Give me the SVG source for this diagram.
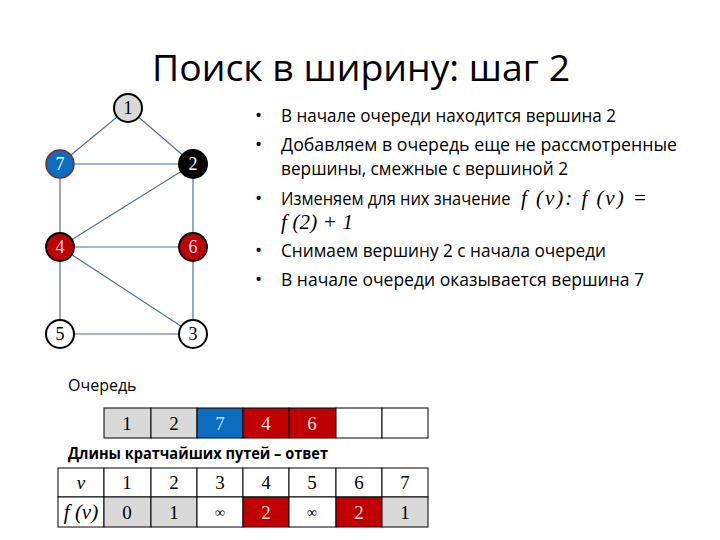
<svg xmlns="http://www.w3.org/2000/svg" width="720" height="540" viewBox="0 0 720 540">
<style>
.edge{stroke:#52708e;stroke-width:1.2;fill:none}
.node circle{stroke:#000;stroke-width:2}
.nl{font-family:"Liberation Serif","DejaVu Serif",serif;font-size:18px;text-anchor:middle}
.title{font-family:"Open Sans","Liberation Sans",sans-serif;font-size:37px;fill:#000;text-anchor:middle}
.b{font-family:"Open Sans","Liberation Sans",sans-serif;font-size:19px;fill:#000}
.m{font-family:"Liberation Serif","DejaVu Serif",serif;font-size:21px;fill:#000;font-style:italic}
.mi{font-style:italic}
.lbl{font-family:"Open Sans","Liberation Sans",sans-serif;font-size:16px;fill:#000}
.cell{stroke:#000;stroke-width:1}
.ct{font-family:"Liberation Serif","DejaVu Serif",serif;font-size:19px;text-anchor:middle}
</style>
<rect width="720" height="540" fill="#fff"/>
<text class="title" x="361" y="81" textLength="418" lengthAdjust="spacingAndGlyphs">Поиск в ширину: шаг 2</text>

<g id="connectors">
<line class="edge" x1="128" y1="108" x2="60" y2="164"/>
<line class="edge" x1="128" y1="108" x2="193" y2="164"/>
<line class="edge" x1="60" y1="164" x2="193" y2="164"/>
<line class="edge" x1="60" y1="164" x2="60" y2="247"/>
<line class="edge" x1="193" y1="164" x2="60" y2="247"/>
<line class="edge" x1="193" y1="164" x2="193" y2="247"/>
<line class="edge" x1="60" y1="247" x2="193" y2="247"/>
<line class="edge" x1="60" y1="247" x2="60" y2="334"/>
<line class="edge" x1="60" y1="247" x2="193" y2="334"/>
<line class="edge" x1="193" y1="247" x2="193" y2="334"/>
<line class="edge" x1="60" y1="334" x2="193" y2="334"/>
</g>

<g id="node1" class="node"><circle cx="128" cy="108" r="14" fill="#d9d9d9"/><text class="nl" x="128" y="114" fill="#000">1</text></g>
<g id="node7" class="node"><circle cx="60" cy="164" r="14" fill="#0b6cc0" style="stroke:#7a2e2e;stroke-width:1.5"/><text class="nl" x="60" y="170" fill="#fff">7</text></g>
<g id="node2" class="node"><circle cx="193" cy="164" r="14" fill="#000"/><text class="nl" x="193" y="170" fill="#fff">2</text></g>
<g id="node4" class="node"><circle cx="60" cy="247" r="14" fill="#c00000"/><text class="nl" x="60" y="253" fill="#fde">4</text></g>
<g id="node6" class="node"><circle cx="193" cy="247" r="14" fill="#c00000"/><text class="nl" x="193" y="253" fill="#fde">6</text></g>
<g id="node5" class="node"><circle cx="60" cy="334" r="14" fill="#fff"/><text class="nl" x="60" y="340" fill="#000">5</text></g>
<g id="node3" class="node"><circle cx="193" cy="334" r="14" fill="#fff"/><text class="nl" x="193" y="340" fill="#000">3</text></g>

<g id="bullets">
<text class="b" x="255" y="122">•</text>
<text class="b" x="281" y="122" textLength="335" lengthAdjust="spacingAndGlyphs">В начале очереди находится вершина 2</text>
<text class="b" x="255" y="151">•</text>
<text class="b" x="281" y="151" textLength="396" lengthAdjust="spacingAndGlyphs">Добавляем в очередь еще не рассмотренные</text>
<text class="b" x="281" y="175" textLength="287" lengthAdjust="spacingAndGlyphs">вершины, смежные с вершиной 2</text>
<text class="b" x="255" y="205">•</text>
<text class="b" transform="translate(281,205) scale(0.9,1)" x="0" y="0" textLength="255" lengthAdjust="spacingAndGlyphs">Изменяем для них значение</text>
<text class="m" x="521" y="205" textLength="126" lengthAdjust="spacing">f (v): f (v) =</text>
<text class="m" x="281" y="229" textLength="72" lengthAdjust="spacing">f (2) + 1</text>
<text class="b" x="255" y="257">•</text>
<text class="b" x="281" y="257" textLength="325" lengthAdjust="spacingAndGlyphs">Снимаем вершину 2 с начала очереди</text>
<text class="b" x="255" y="286">•</text>
<text class="b" x="281" y="286" textLength="363" lengthAdjust="spacingAndGlyphs">В начале очереди оказывается вершина 7</text>
</g>

<text class="lbl" x="68" y="391">Очередь</text>
<g id="queue">
<rect class="cell" x="104" y="408" width="47" height="30" fill="#d9d9d9"/>
<rect class="cell" x="151" y="408" width="46" height="30" fill="#d9d9d9"/>
<rect class="cell" x="197" y="408" width="46" height="30" fill="#0b6cc0"/>
<rect class="cell" x="243" y="408" width="46" height="30" fill="#c00000"/>
<rect class="cell" x="289" y="408" width="47" height="30" fill="#c00000"/>
<rect class="cell" x="336" y="408" width="46" height="30" fill="#fff"/>
<rect class="cell" x="382" y="408" width="46" height="30" fill="#fff"/>
<text class="ct" x="127" y="430" fill="#000">1</text>
<text class="ct" x="174" y="430" fill="#000">2</text>
<text class="ct" x="220" y="430" fill="#bfe6ff">7</text>
<text class="ct" x="266" y="430" fill="#fdd">4</text>
<text class="ct" x="312" y="430" fill="#fdd">6</text>
</g>

<text class="lbl" x="68" y="459" style="font-weight:bold" textLength="260" lengthAdjust="spacingAndGlyphs">Длины кратчайших путей – ответ</text>
<g id="table">
<rect class="cell" x="58" y="468" width="46" height="29" fill="#fff"/>
<rect class="cell" x="104" y="468" width="47" height="29" fill="#fff"/>
<rect class="cell" x="151" y="468" width="46" height="29" fill="#fff"/>
<rect class="cell" x="197" y="468" width="46" height="29" fill="#fff"/>
<rect class="cell" x="243" y="468" width="46" height="29" fill="#fff"/>
<rect class="cell" x="289" y="468" width="47" height="29" fill="#fff"/>
<rect class="cell" x="336" y="468" width="46" height="29" fill="#fff"/>
<rect class="cell" x="382" y="468" width="46" height="29" fill="#fff"/>
<rect class="cell" x="58" y="497" width="46" height="30" fill="#fff"/>
<rect class="cell" x="104" y="497" width="47" height="30" fill="#d9d9d9"/>
<rect class="cell" x="151" y="497" width="46" height="30" fill="#d9d9d9"/>
<rect class="cell" x="197" y="497" width="46" height="30" fill="#fff"/>
<rect class="cell" x="243" y="497" width="46" height="30" fill="#c00000"/>
<rect class="cell" x="289" y="497" width="47" height="30" fill="#fff"/>
<rect class="cell" x="336" y="497" width="46" height="30" fill="#c00000"/>
<rect class="cell" x="382" y="497" width="46" height="30" fill="#d9d9d9"/>
<text class="ct mi" x="81" y="489">v</text>
<text class="ct" x="127" y="489">1</text>
<text class="ct" x="174" y="489">2</text>
<text class="ct" x="220" y="489">3</text>
<text class="ct" x="266" y="489">4</text>
<text class="ct" x="312" y="489">5</text>
<text class="ct" x="359" y="489">6</text>
<text class="ct" x="405" y="489">7</text>
<text class="ct mi" x="81" y="519" style="font-size:21px">f (v)</text>
<text class="ct" x="127" y="519">0</text>
<text class="ct" x="174" y="519">1</text>
<text class="ct" x="220" y="517" style="font-size:14px">∞</text>
<text class="ct" x="266" y="519" fill="#fdd">2</text>
<text class="ct" x="312" y="517" style="font-size:14px">∞</text>
<text class="ct" x="359" y="519" fill="#fdd">2</text>
<text class="ct" x="405" y="519">1</text>
</g>
</svg>
